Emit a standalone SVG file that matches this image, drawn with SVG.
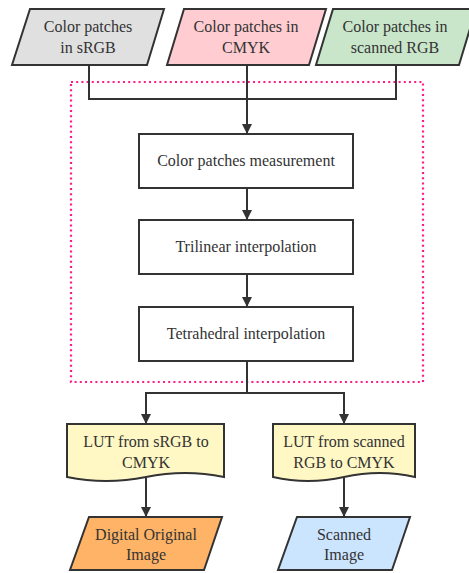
<svg xmlns="http://www.w3.org/2000/svg" width="469" height="573" viewBox="0 0 469 573">
  <defs>
    <marker id="arrow" viewBox="0 0 10 10" refX="10" refY="5" markerWidth="10" markerHeight="10" markerUnits="userSpaceOnUse" orient="auto">
      <path d="M0,0 L10,5 L0,10 Z" fill="#333333"/>
    </marker>
    <style>
      .shape { stroke: #333333; stroke-width: 2; }
      .label { font-size: 16px; fill: #333333; text-anchor: middle; }
      .wire { fill: none; stroke: #333333; stroke-width: 2; }
      .group { fill: none; stroke: #ff1a8c; stroke-width: 2.2; stroke-dasharray: 2 3.2; }
    </style>
  </defs>
  <rect width="469" height="573" fill="#ffffff"/>

  <!-- dotted grouping frame around the processing steps -->
  <rect class="group" x="71" y="82" width="352" height="300"/>

  <!-- connectors -->
  <g id="connectors">
    <path class="wire" d="M89,65 V99 H396 V65"/>
    <path class="wire" d="M247,65 V134" marker-end="url(#arrow)"/>
    <path class="wire" d="M247,188 V220" marker-end="url(#arrow)"/>
    <path class="wire" d="M247,274 V307" marker-end="url(#arrow)"/>
    <path class="wire" d="M247,361 V393 H146 V424" marker-end="url(#arrow)"/>
    <path class="wire" d="M247,393 H344 V424" marker-end="url(#arrow)"/>
    <path class="wire" d="M146,478 V517" marker-end="url(#arrow)"/>
    <path class="wire" d="M344,478 V517" marker-end="url(#arrow)"/>
  </g>

  <g font-family="'Liberation Serif', 'DejaVu Serif', serif">
  <!-- inputs -->
  <g id="in-srgb">
    <polygon class="shape" points="30,9 164,9 147,65 12,65" fill="#e0e0e0"/>
    <text class="label" x="88" y="32">Color patches</text>
    <text class="label" x="88" y="53">in sRGB</text>
  </g>
  <g id="in-cmyk">
    <polygon class="shape" points="184,9 326,9 309,65 167,65" fill="#ffccd1"/>
    <text class="label" x="246" y="32">Color patches in</text>
    <text class="label" x="246" y="53">CMYK</text>
  </g>
  <g id="in-scanned">
    <polygon class="shape" points="333,9 476,9 459,65 316,65" fill="#c9e6ca"/>
    <text class="label" x="395" y="32">Color patches in</text>
    <text class="label" x="395" y="53">scanned RGB</text>
  </g>

  <!-- processing steps -->
  <g id="measurement">
    <rect class="shape" x="139" y="134" width="214" height="54" fill="#ffffff"/>
    <text class="label" x="246" y="166">Color patches measurement</text>
  </g>
  <g id="trilinear">
    <rect class="shape" x="139" y="220" width="214" height="54" fill="#ffffff"/>
    <text class="label" x="246" y="252">Trilinear interpolation</text>
  </g>
  <g id="tetrahedral">
    <rect class="shape" x="139" y="307" width="214" height="54" fill="#ffffff"/>
    <text class="label" x="246" y="339">Tetrahedral interpolation</text>
  </g>

  <!-- lookup tables (document shapes with a wavy bottom edge) -->
  <g id="lut-srgb">
    <path class="shape" d="M67,424 H224 V477 Q185,469 146,477 Q106,485 67,477 Z" fill="#fff8c4"/>
    <text class="label" x="146" y="447">LUT from sRGB to</text>
    <text class="label" x="146" y="468">CMYK</text>
  </g>
  <g id="lut-scanned">
    <path class="shape" d="M273,424 H415 V477 Q380,469 344,477 Q308,485 273,477 Z" fill="#fff8c4"/>
    <text class="label" x="344" y="447">LUT from scanned</text>
    <text class="label" x="344" y="468">RGB to CMYK</text>
  </g>

  <!-- outputs -->
  <g id="out-digital">
    <polygon class="shape" points="89,517 222,517 204,570 70,570" fill="#ffb366"/>
    <text class="label" x="146" y="540">Digital Original</text>
    <text class="label" x="146" y="560">Image</text>
  </g>
  <g id="out-scanned">
    <polygon class="shape" points="297,517 410,517 392,570 278,570" fill="#cce5ff"/>
    <text class="label" x="344" y="540">Scanned</text>
    <text class="label" x="344" y="560">Image</text>
  </g>
  </g>
</svg>
